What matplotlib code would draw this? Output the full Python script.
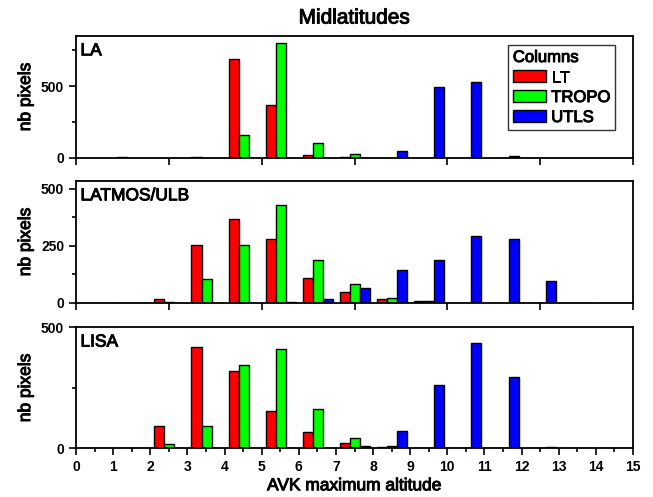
import matplotlib
matplotlib.use("Agg")
import matplotlib.pyplot as plt
import matplotlib.patheffects as pe
from matplotlib.ticker import MultipleLocator, FixedLocator
import numpy as np

plt.rcParams['font.family'] = ['Liberation Sans', 'DejaVu Sans']

bins = list(range(15))
series_names = ["LT", "TROPO", "UTLS"]
colors = ["#FF0000", "#00FF00", "#0000FF"]

LA_LT = [0, 5, 0, 3, 686, 365, 21, 8, 0, 0, 0, 0, 0, 0, 0]
LA_TROPO = [0, 0, 0, 0, 160, 802, 100, 25, 0, 0, 0, 0, 0, 0, 0]
LA_UTLS = [0, 0, 0, 0, 0, 0, 0, 0, 44, 495, 530, 12, 0, 0, 0]

LATMOS_LT = [0, 0, 15, 253, 367, 279, 110, 45, 15, 9, 0, 0, 0, 0, 0]
LATMOS_TROPO = [0, 0, 4, 104, 253, 430, 187, 81, 19, 9, 0, 0, 0, 0, 0]
LATMOS_UTLS = [0, 0, 0, 0, 0, 5, 17, 63, 145, 187, 294, 282, 95, 0, 0]

LISA_LT = [0, 3, 93, 419, 319, 155, 66, 21, 4, 2, 0, 0, 0, 0, 0]
LISA_TROPO = [0, 0, 16, 93, 346, 410, 164, 42, 8, 2, 0, 0, 0, 0, 0]
LISA_UTLS = [0, 0, 0, 0, 0, 0, 0, 11, 71, 263, 436, 293, 5, 0, 0]

panels = [
    ("LA", [LA_LT, LA_TROPO, LA_UTLS], 850, [0, 500], [250, 750]),
    ("LATMOS/ULB", [LATMOS_LT, LATMOS_TROPO, LATMOS_UTLS], 535, [0, 250, 500], [125, 375]),
    ("LISA", [LISA_LT, LISA_TROPO, LISA_UTLS], 500, [0, 500], [250]),
]

heavy = [pe.withStroke(linewidth=0.7, foreground="black")]

fig = plt.figure(figsize=(6.53, 4.97), dpi=100)
left, right = 76 / 653, 633 / 653
rects = [(36, 157.7), (181, 302.7), (327.3, 448.3)]
W = 0.27
x = np.array(bins, dtype=float)
axes = []
for i, ((name, data, ytop, majors, minors), (yt, yb)) in enumerate(zip(panels, rects)):
    ax = fig.add_axes([left, 1 - yb / 497, right - left, (yb - yt) / 497])
    for k, (vals, c, lab) in enumerate(zip(data, colors, series_names)):
        ax.bar(x + 0.515 + (k - 1) * W, vals, width=W, color=c, edgecolor="black",
               linewidth=1.0, label=lab, zorder=2)
    ax.set_xlim(0, 15)
    ax.set_ylim(0, ytop)
    ax.yaxis.set_major_locator(FixedLocator(majors))
    ax.yaxis.set_minor_locator(FixedLocator(minors))
    for s in ax.spines.values():
        s.set_linewidth(1.3)
    ax.tick_params(axis='both', which='major', direction='out', length=5, width=1.2,
                   labelsize=10)
    ax.tick_params(axis='both', which='minor', direction='out', length=3, width=1.2)
    for t in ax.get_yticklabels():
        t.set_fontweight('bold')
    ax.set_ylabel("nb pixels", fontsize=12.5, path_effects=heavy)
    ax.yaxis.set_label_coords(-0.077, 0.5)
    ax.text(0.008, 0.94, name, transform=ax.transAxes, fontsize=12.5, va='top', ha='left',
            path_effects=heavy)
    if i < 2:
        ax.xaxis.set_major_locator(MultipleLocator(2.5))
        ax.xaxis.set_minor_locator(FixedLocator([]))
        ax.tick_params(axis='x', labelbottom=False)
    else:
        ax.xaxis.set_minor_locator(MultipleLocator(0.5))
        ax.set_xticks(bins + [15])
        ax.set_xticklabels([str(b) for b in bins + [15]], fontweight='bold')
        ax.set_xlabel("AVK maximum altitude", fontsize=12.5, labelpad=3, path_effects=heavy)
    if i == 0:
        leg = ax.legend(loc='upper right', title="Columns", fontsize=12,
                        title_fontsize=12, frameon=True, fancybox=False,
                        edgecolor='black', handlelength=2.0, handleheight=0.75,
                        handletextpad=0.3, borderpad=0.3, labelspacing=0.3,
                        borderaxespad=0, bbox_to_anchor=(0.968, 0.926))
        leg.get_frame().set_linewidth(1.0)
        leg._legend_box.align = "left"
        for t in leg.get_texts():
            t.set_path_effects(heavy)
        leg.get_title().set_path_effects(heavy)
    axes.append(ax)

fig.text((left + right) / 2, 1 - 18 / 497, "Midlatitudes", ha='center', va='center',
         fontsize=15, path_effects=heavy)

fig.savefig("out.png", dpi=100)
